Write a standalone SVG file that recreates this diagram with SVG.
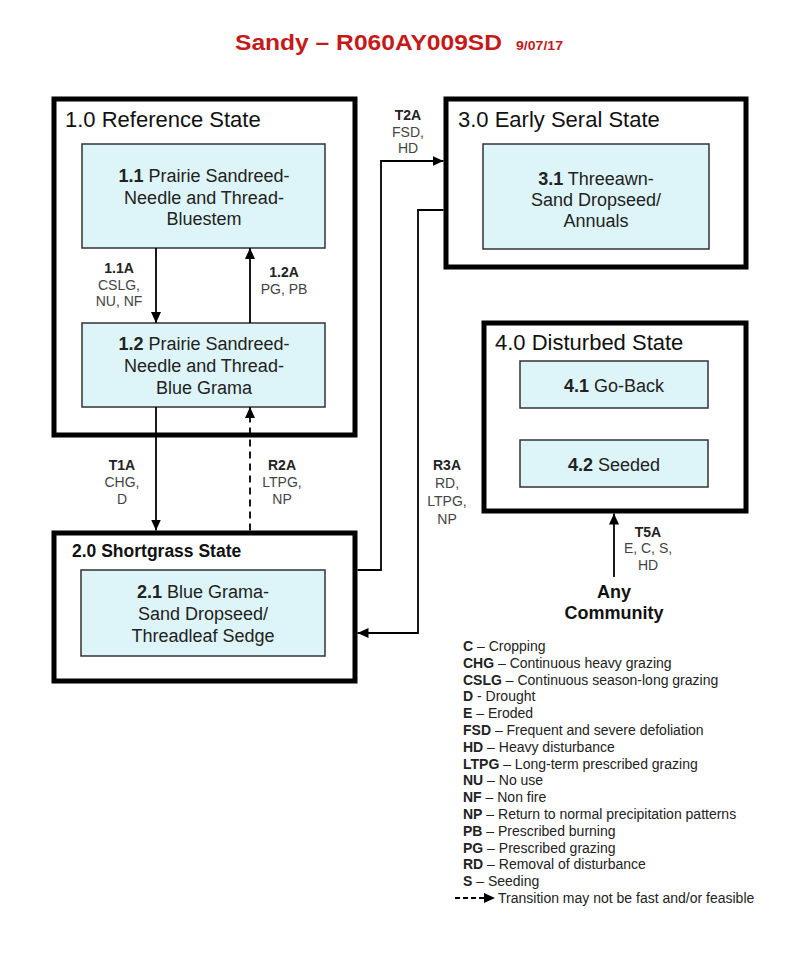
<svg xmlns="http://www.w3.org/2000/svg" width="800" height="957" viewBox="0 0 800 957">
<defs>
<marker id="ah" markerUnits="userSpaceOnUse" markerWidth="12" markerHeight="10" refX="11" refY="5" orient="auto">
<path d="M0,0 L11,5 L0,10 Z" fill="#000"/>
</marker>
<style>
text{font-family:"Liberation Sans",Arial,sans-serif;}
.state{fill:#fff;stroke:#000;stroke-width:5;}
.comm{fill:#ddf5f8;stroke:#333;stroke-width:1.5;}
.st{font-size:22px;fill:#111;}
.nt{font-size:18px;fill:#222;text-anchor:middle;}
.lb{font-size:14px;fill:#444;text-anchor:middle;}
.lg{font-size:14px;fill:#222;}
.b{font-weight:bold;fill:#222;}
.cn{fill:none;stroke:#000;stroke-width:1.8;marker-end:url(#ah);}
.dash{stroke-dasharray:7,5;}
</style>
</defs>
<rect width="800" height="957" fill="#fff"/>
<g id="title">
<text x="235" y="50" font-size="22.5" font-weight="bold" fill="#c41a1a" textLength="267" lengthAdjust="spacingAndGlyphs">Sandy – R060AY009SD</text>
<text x="516" y="50" font-size="12.5" font-weight="bold" fill="#c41a1a" textLength="47" lengthAdjust="spacingAndGlyphs">9/07/17</text>
</g>
<g id="state1">
<rect class="state" x="54" y="99" width="301" height="336"/>
<text class="st" x="65" y="127">1.0 Reference State</text>
</g>
<g id="comm11">
<rect class="comm" x="82" y="144" width="243" height="104"/>
<text class="nt" x="204" y="182"><tspan class="b">1.1</tspan> Prairie Sandreed-</text>
<text class="nt" x="204" y="204">Needle and Thread-</text>
<text class="nt" x="204" y="225">Bluestem</text>
</g>
<g id="comm12">
<rect class="comm" x="82" y="323" width="243" height="84"/>
<text class="nt" x="204" y="350"><tspan class="b">1.2</tspan> Prairie Sandreed-</text>
<text class="nt" x="204" y="372">Needle and Thread-</text>
<text class="nt" x="204" y="394">Blue Grama</text>
</g>
<g id="state2">
<rect class="state" x="54" y="533" width="301" height="148"/>
<text x="72" y="557" font-size="17.5" font-weight="bold" fill="#111">2.0 Shortgrass State</text>
</g>
<g id="comm21">
<rect class="comm" x="81" y="570" width="244" height="86"/>
<text class="nt" x="203" y="598"><tspan class="b">2.1</tspan> Blue Grama-</text>
<text class="nt" x="203" y="620">Sand Dropseed/</text>
<text class="nt" x="203" y="642">Threadleaf Sedge</text>
</g>
<g id="state3">
<rect class="state" x="446" y="99" width="300" height="168"/>
<text class="st" x="458" y="127">3.0 Early Seral State</text>
</g>
<g id="comm31">
<rect class="comm" x="483" y="144" width="226" height="105"/>
<text class="nt" x="596" y="185"><tspan class="b">3.1</tspan> Threeawn-</text>
<text class="nt" x="596" y="206">Sand Dropseed/</text>
<text class="nt" x="596" y="227">Annuals</text>
</g>
<g id="state4">
<rect class="state" x="484" y="323" width="262" height="188"/>
<text class="st" x="495" y="350">4.0 Disturbed State</text>
</g>
<g id="comm41">
<rect class="comm" x="520" y="361" width="188" height="47"/>
<text class="nt" x="614" y="392"><tspan class="b">4.1</tspan> Go-Back</text>
</g>
<g id="comm42">
<rect class="comm" x="520" y="440" width="188" height="47"/>
<text class="nt" x="614" y="471"><tspan class="b">4.2</tspan> Seeded</text>
</g>
<g id="any">
<text x="614" y="598" font-size="18" font-weight="bold" fill="#111" text-anchor="middle">Any</text>
<text x="614" y="619" font-size="18" font-weight="bold" fill="#111" text-anchor="middle">Community</text>
</g>
<g id="connectors">
<path class="cn" d="M156,248 V323"/>
<path class="cn" d="M250,323 V248"/>
<path class="cn" d="M156,407 V530.5"/>
<path class="cn dash" d="M250,530.5 V407"/>
<path class="cn" d="M357.5,570 H381 V161 H443.5"/>
<path class="cn" d="M443.5,210 H418 V633 H357.5"/>
<path class="cn" d="M614,577 V513.5"/>
</g>
<g id="labels">
<text class="lb" x="119" y="273"><tspan class="b">1.1A</tspan></text>
<text class="lb" x="119" y="290">CSLG,</text>
<text class="lb" x="119" y="306">NU, NF</text>
<text class="lb" x="284" y="277"><tspan class="b">1.2A</tspan></text>
<text class="lb" x="284" y="294">PG, PB</text>
<text class="lb" x="122" y="470"><tspan class="b">T1A</tspan></text>
<text class="lb" x="122" y="487">CHG,</text>
<text class="lb" x="122" y="504">D</text>
<text class="lb" x="282" y="470"><tspan class="b">R2A</tspan></text>
<text class="lb" x="282" y="487">LTPG,</text>
<text class="lb" x="282" y="504">NP</text>
<text class="lb" x="447" y="470"><tspan class="b">R3A</tspan></text>
<text class="lb" x="447" y="488">RD,</text>
<text class="lb" x="447" y="506">LTPG,</text>
<text class="lb" x="447" y="524">NP</text>
<text class="lb" x="408" y="120"><tspan class="b">T2A</tspan></text>
<text class="lb" x="408" y="137">FSD,</text>
<text class="lb" x="408" y="153">HD</text>
<text class="lb" x="648" y="537"><tspan class="b">T5A</tspan></text>
<text class="lb" x="648" y="553">E, C, S,</text>
<text class="lb" x="648" y="570">HD</text>
</g>
<g id="legend">
<text class="lg" x="463" y="651"><tspan class="b">C</tspan> – Cropping</text>
<text class="lg" x="463" y="668"><tspan class="b">CHG</tspan> – Continuous heavy grazing</text>
<text class="lg" x="463" y="685"><tspan class="b">CSLG</tspan> – Continuous season-long grazing</text>
<text class="lg" x="463" y="701"><tspan class="b">D</tspan> - Drought</text>
<text class="lg" x="463" y="718"><tspan class="b">E</tspan> – Eroded</text>
<text class="lg" x="463" y="735"><tspan class="b">FSD</tspan> – Frequent and severe defoliation</text>
<text class="lg" x="463" y="752"><tspan class="b">HD</tspan> – Heavy disturbance</text>
<text class="lg" x="463" y="769"><tspan class="b">LTPG</tspan> – Long-term prescribed grazing</text>
<text class="lg" x="463" y="785"><tspan class="b">NU</tspan> – No use</text>
<text class="lg" x="463" y="802"><tspan class="b">NF</tspan> – Non fire</text>
<text class="lg" x="463" y="819"><tspan class="b">NP</tspan> – Return to normal precipitation patterns</text>
<text class="lg" x="463" y="836"><tspan class="b">PB</tspan> – Prescribed burning</text>
<text class="lg" x="463" y="853"><tspan class="b">PG</tspan> – Prescribed grazing</text>
<text class="lg" x="463" y="869"><tspan class="b">RD</tspan> – Removal of disturbance</text>
<text class="lg" x="463" y="886"><tspan class="b">S</tspan> – Seeding</text>
<path class="cn" d="M455,898 H495" style="stroke-dasharray:5,3"/>
<text class="lg" x="498" y="903">Transition may not be fast and/or feasible</text>
</g>
</svg>
